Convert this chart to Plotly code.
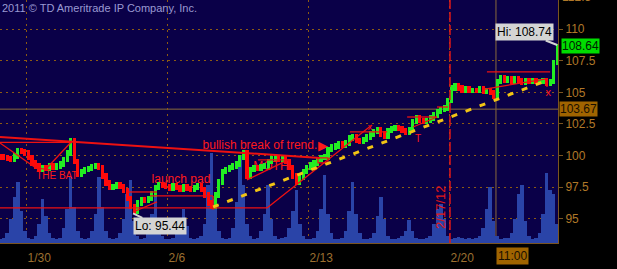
import plotly.graph_objects as go

# ---------------- data ----------------
# x axis in trading days, 0 = 1/30, 5 trading days per week
tick_days = [0, 5, 10, 15]
tick_labels = ["1/30", "2/6", "2/13", "2/20"]

bar_start = -0.95
bar_step = 0.125  # 3-hour bars
first_open = 99.95
wick = 0.2  # typical range beyond open/close

closes = [
    99.89, 99.82, 99.74, 99.66, 99.97, 100.37, 100.30, 100.21, 99.82, 99.42,
    99.18, 98.87, 99.03, 98.95, 99.18, 99.03, 99.18, 99.34, 99.66, 100.21,
    101.16, 99.50, 98.55, 98.71, 98.87, 98.95, 99.11, 99.18, 99.03, 98.39,
    97.84, 97.45, 97.53, 97.68, 97.53, 97.21, 96.58, 95.95, 95.63, 96.26,
    96.50, 96.42, 96.58, 96.97, 97.45, 97.68, 97.61, 97.53, 97.37, 97.61,
    97.45, 97.29, 97.53, 97.37, 97.29, 97.45, 97.61, 97.29, 96.89, 96.26,
    95.95, 96.89, 97.92, 98.71, 98.87, 99.03, 99.18, 99.34, 99.82, 100.21,
    98.39, 98.87, 99.03, 98.95, 99.11, 99.18, 99.50, 99.74, 99.82, 99.66,
    99.74, 99.50, 99.03, 98.39, 97.92, 98.24, 98.71, 99.03, 99.26, 99.42,
    99.66, 99.82, 99.89, 100.45, 100.68, 100.76, 100.92, 100.84, 101.00, 101.39,
    101.47, 101.16, 101.08, 101.24, 101.47, 101.71, 101.87, 102.03, 101.71, 101.55,
    101.95, 102.11, 102.18, 102.11, 101.95, 101.79, 102.03, 102.66, 102.97, 102.74,
    102.66, 102.74, 102.97, 103.21, 103.45, 103.61, 103.76, 104.39, 105.34, 105.50,
    105.34, 105.18, 105.26, 105.11, 105.18, 105.11, 105.26, 105.03, 105.11, 104.95,
    104.71, 105.82, 106.13, 105.97, 106.05, 105.89, 106.05, 105.97, 105.74, 105.97,
    105.89, 105.97, 105.82, 105.89, 105.97, 105.66, 105.82, 107.39, 108.64,
]

volume = [
    1.5, 2, 4, 10, 19, 25, 13, 5, 2, 1.5,
    3, 8, 18, 11, 4, 2, 1.5, 2, 6, 14,
    27, 15, 5, 2, 1.5, 2, 5, 12, 27, 15,
    5, 2, 1.5, 2, 4, 10, 20, 26, 9, 3,
    1.5, 2, 4, 12, 19, 8, 3, 1.5, 1.5, 2,
    5, 10, 14, 7, 2, 1.5, 2, 3, 8, 24,
    37, 18, 5, 2, 1.5, 2, 6, 17, 36, 24,
    8, 3, 1.5, 2, 5, 12, 24, 10, 3, 1.5,
    2, 2.5, 6, 13, 22, 8, 3, 1.5, 1.5, 2,
    5, 14, 28, 12, 4, 1.5, 1.5, 2, 5, 13,
    25, 12, 4, 1.5, 1.5, 2, 4, 11, 19, 10,
    3, 1.5, 1.5, 2, 3, 5, 9.5, 5, 2, 1.5,
    1.5, 2, 3, 8, 14, 16, 10, 3, 1.5, 2,
    2.5, 2, 1.5, 2, 1.5, 2, 3, 6, 14, 23,
    9, 3, 1.5, 2, 2, 4, 10, 20, 24, 9,
    3, 1.5, 2, 4, 12, 29, 22, 20, 8,
]

price_ticks = [95, 97.5, 100, 102.5, 105, 107.5, 110]
price_tick_text = ["95", "97.5", "100", "102.5", "105", "107.5", "110"]

last_price = 108.64
cursor_price = 103.67
hi_price = 108.74
lo_price = 95.44
lo_day = 3.76
cursor_day = 16.63
cursor_label = "11:00"
marker_day = 15
marker_label = "2/17/12"

# drawing annotations (trader's study lines), in (day, price)
red_segments = [
    (-0.957, 101.47, 10.39, 99.82),
    (-0.957, 101.04, 1.60, 101.04),
    (-0.957, 101.00, 0.32, 99.03),
    (0.32, 99.03, 0.82, 98.87),
    (0.64, 98.87, 1.60, 101.16),
    (-0.957, 95.87, 8.51, 95.87),
    (8.51, 95.87, 12.23, 102.42),
    (3.58, 97.13, 4.61, 97.13),
    (4.36, 96.82, 6.60, 96.82),
    (6.60, 96.82, 6.60, 95.71),
    (3.76, 95.55, 4.61, 96.34),
    (7.80, 98.08, 9.26, 99.66),
    (8.19, 99.66, 9.33, 99.66),
    (11.45, 101.87, 12.77, 101.87),
    (13.48, 103.05, 14.54, 103.05),
    (14.54, 103.84, 14.93, 103.84),
    (13.69, 102.26, 14.54, 103.05),
    (16.31, 106.61, 18.55, 106.61),
    (16.24, 105.26, 18.37, 106.05),
    (18.44, 105.97, 18.44, 105.42),
]
red_box = (10.32, 99.42, 10.67, 99.82)
yellow_trend = (6.60, 95.95, 18.48, 105.97)

label_texts = ["THE BAT", "launch pad", "bullish break of trend.", "\u25B6", "MOTH", "x", "x", "T"]
label_days = [1.06, 5.46, 8.26, 10.50, 8.65, 18.48, 12.16, 13.87]
label_prices = [98.39, 98.08, 100.76, 100.68, 99.11, 104.95, 102.18, 101.24]
label_sizes = [10, 12, 12, 13, 12, 11, 9, 10]

# ---------------- build ----------------
n = len(closes)
xs = [bar_start + bar_step * i for i in range(n)]
opens = [first_open] + closes[:-1]
lows = [min(o, c) - wick for o, c in zip(opens, closes)]
spans = [abs(c - o) + 2 * wick for o, c in zip(opens, closes)]
colors = ["#22ee22" if c >= o else "#ff0a0a" for o, c in zip(opens, closes)]

FONT = "Liberation Sans"
GRID = "#8c5a12"
AXIS = "#7a5420"
RED = "#ff1a1a"
YR = [93.1, 112.29]

fig = go.Figure()
fig.add_trace(go.Bar(x=xs, y=volume, width=bar_step, marker=dict(color="#2a44a8", line=dict(width=0)),
                     yaxis="y", hoverinfo="skip"))
fig.add_trace(go.Scatter(x=label_days, y=label_prices, text=label_texts, mode="text",
                         textfont=dict(color=RED, size=label_sizes, family=FONT), yaxis="y2"))
fig.add_trace(go.Bar(x=xs, y=spans, base=lows, width=0.112,
                     marker=dict(color=colors, line=dict(width=0)), yaxis="y3"))

shapes = []
shapes.append(dict(type="line", xref="paper", x0=0, x1=1, yref="y2", y0=cursor_price, y1=cursor_price,
                   line=dict(color="#8a6a3c", width=1), layer="below"))
shapes.append(dict(type="line", xref="x", x0=cursor_day, x1=cursor_day, yref="paper", y0=0, y1=1,
                   line=dict(color="#8a6a3c", width=1), layer="below"))
shapes.append(dict(type="line", xref="x", x0=marker_day, x1=marker_day, yref="paper", y0=0, y1=1,
                   line=dict(color="#e01818", width=1.5, dash="10px,3px"), layer="above"))
for k, (x0, y0, x1, y1) in enumerate(red_segments):
    shapes.append(dict(type="line", xref="x", yref="y2", x0=x0, y0=y0, x1=x1, y1=y1,
                       line=dict(color="#ee1111", width=2 if k == 0 else 1.3), layer="above"))
shapes.append(dict(type="rect", xref="x", yref="y2", x0=red_box[0], y0=red_box[1], x1=red_box[2], y1=red_box[3],
                   line=dict(color="#ee1111", width=1.3), layer="above"))
shapes.append(dict(type="line", xref="x", yref="y2", x0=yellow_trend[0], y0=yellow_trend[1],
                   x1=yellow_trend[2], y1=yellow_trend[3],
                   line=dict(color="#f2c414", width=3, dash="6px,9px"), layer="above"))

annotations = [
    dict(text="2011 \u00a9 TD Ameritrade IP Company, Inc.", xref="paper", yref="paper", x=0, y=1,
         xanchor="left", yanchor="top", showarrow=False, font=dict(color="#9a9ad2", size=11, family=FONT)),
    dict(text="112.5", xref="paper", yref="paper", x=1, y=1.011, xanchor="left", yanchor="middle",
         xshift=2, showarrow=False, font=dict(color="#b07828", size=12, family=FONT)),
    dict(text=f"{last_price:.2f}", xref="paper", yref="y2", x=1, y=last_price, xanchor="left",
         xshift=3, showarrow=False, bgcolor="#00dd00", borderpad=0,
         font=dict(color="#002000", size=12, family=FONT)),
    dict(text=f"{cursor_price:.2f}", xref="paper", yref="y2", x=1, y=cursor_price, xanchor="left",
         xshift=1, showarrow=False, bgcolor="#a06400", borderpad=0,
         font=dict(color="#1a1000", size=12, family=FONT)),
    dict(text=cursor_label, xref="x", yref="paper", x=cursor_day, y=-0.0535, xanchor="left",
         yanchor="middle", showarrow=False, bgcolor="#a06400", borderpad=1,
         font=dict(color="#1a1000", size=12, family=FONT)),
    dict(text=f"Hi: {hi_price:.2f}", xref="x", yref="y2", x=xs[-1], y=hi_price, ax=-33, ay=-13,
         showarrow=True, arrowhead=0, arrowwidth=2, arrowcolor="#d4d4d4", bgcolor="#d4d4d4",
         borderpad=1, font=dict(color="#000000", size=12, family=FONT)),
    dict(text=f"Lo: {lo_price:.2f}", xref="x", yref="y2", x=lo_day, y=lo_price, ax=27, ay=13,
         showarrow=True, arrowhead=0, arrowwidth=2, arrowcolor="#d4d4d4", bgcolor="#d4d4d4",
         borderpad=1, font=dict(color="#000000", size=12, family=FONT)),
    dict(text=marker_label, xref="x", yref="y2", x=14.68, y=95.95, textangle=-90, showarrow=False,
         font=dict(color="#e01818", size=13, family=FONT)),
]

fig.update_layout(
    width=617, height=269, autosize=False,
    margin=dict(l=0, r=59, t=0, b=26),
    paper_bgcolor="#000000", plot_bgcolor="#0a0048",
    showlegend=False, barmode="overlay", bargap=0,
    shapes=shapes, annotations=annotations,
    xaxis=dict(range=[-0.957, 18.83], tickvals=tick_days, ticktext=tick_labels,
               showgrid=True, gridcolor=GRID, griddash="2px,4px", gridwidth=1,
               zeroline=False, showline=True, linecolor=AXIS, linewidth=1,
               ticks="", ticklabelposition="outside right", ticklabelstandoff=4,
               tickfont=dict(color="#9c7030", size=12, family=FONT)),
    yaxis=dict(range=[0, 100], visible=False, showgrid=False, zeroline=False),
    yaxis2=dict(overlaying="y", side="right", range=YR, tickvals=price_ticks, ticktext=price_tick_text,
                showgrid=True, gridcolor=GRID, griddash="2px,4px", gridwidth=1,
                zeroline=False, showline=True, linecolor=AXIS, linewidth=1,
                ticks="outside", ticklen=4, tickcolor=AXIS,
                tickfont=dict(color="#b07828", size=12, family=FONT)),
    yaxis3=dict(overlaying="y", range=YR, visible=False, showgrid=False, zeroline=False),
)

fig.write_html("out.html")
